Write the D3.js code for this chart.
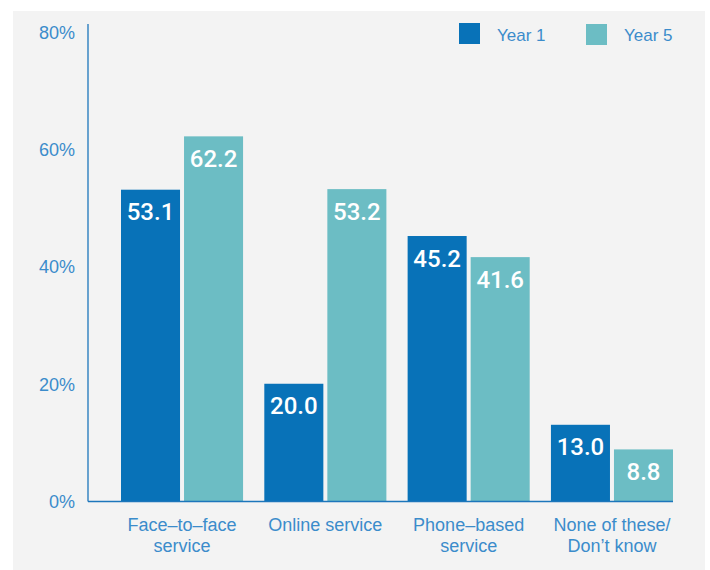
<!DOCTYPE html>
<html>
<head>
<meta charset="utf-8">
<script src="https://cdn.jsdelivr.net/npm/d3@7/dist/d3.min.js"></script>
<style>
  html, body { margin: 0; padding: 0; background: #ffffff; }
  svg { display: block; font-family: "Liberation Sans", Arial, Helvetica, sans-serif; }
  .value { font-family: Roboto, "Liberation Sans", Arial, sans-serif; font-weight: 500; }
</style>
</head>
<body>
<svg id="chart" width="710" height="570"></svg>
<script>
// Share of respondents using each kind of service
const categories = [["Face\u2013to\u2013face", "service"], ["Online service"], ["Phone\u2013based", "service"], ["None of these/", "Don\u2019t know"]];
const categoryKeys = ["face", "online", "phone", "none"];
const seriesNames = ["Year 1", "Year 5"];
const year1 = [53.1, 20.0, 45.2, 13.0];
const year5 = [62.2, 53.2, 41.6, 8.8];
const yTicks = [0, 20, 40, 60, 80];

const colors = ["#0872b8", "#6cbdc4"];
const textBlue = "#3b8ccb";

const svg = d3.select("#chart");

// panel background
svg.append("rect").attr("x", 13).attr("y", 11).attr("width", 692).attr("height", 559).attr("fill", "#f3f3f3");

const y = d3.scaleLinear().domain([0, 80]).range([501, 32]);
const x0 = d3.scaleBand().domain(categoryKeys).range([121, 673]).paddingInner(0.1483).paddingOuter(0);
const x1 = d3.scaleBand().domain(seriesNames).range([0, x0.bandwidth()]).paddingInner(4 / 63);

// y axis
const yAxis = d3.axisLeft(y).tickValues(yTicks).tickFormat(d => d + "%").tickSize(0).tickPadding(13);
const gy = svg.append("g").attr("transform", "translate(88,0)").call(yAxis);
gy.select(".domain").remove();
gy.selectAll("text").attr("fill", textBlue).style("font-size", "18px").attr("dy", "0.35em");
svg.append("line").attr("x1", 88).attr("x2", 88).attr("y1", 24).attr("y2", 501.5)
  .attr("stroke", "#1c76bb").attr("stroke-width", 1.3);

// bars
const series = [year1, year5];
seriesNames.forEach((name, si) => {
  const g = svg.append("g");
  g.selectAll("rect").data(series[si]).join("rect")
    .attr("x", (d, i) => x0(categoryKeys[i]) + x1(name))
    .attr("y", d => y(d))
    .attr("width", x1.bandwidth())
    .attr("height", d => y(0) - y(d))
    .attr("fill", colors[si]);
  g.selectAll("text").data(series[si]).join("text")
    .attr("class", "value")
    .attr("x", (d, i) => x0(categoryKeys[i]) + x1(name) + x1.bandwidth() / 2)
    .attr("y", d => y(d) + 22)
    .attr("dy", "0.36em")
    .attr("text-anchor", "middle")
    .attr("fill", "#ffffff")
    .style("font-size", "24px")
    .text(d => d.toFixed(1));
});

// x axis baseline
svg.append("line").attr("x1", 88).attr("x2", 673).attr("y1", 501.5).attr("y2", 501.5)
  .attr("stroke", "#1c76bb").attr("stroke-width", 1.3);

// category labels
categoryKeys.forEach((k, i) => {
  const cx = x0(k) + x0.bandwidth() / 2;
  const t = svg.append("text")
    .attr("x", cx)
    .attr("y", 525)
    .attr("text-anchor", "middle")
    .attr("fill", textBlue)
    .style("font-size", "18px");
  categories[i].forEach((line, j) => {
    t.append("tspan").attr("x", cx).attr("y", 525 + j * 21).attr("dy", "0.35em").text(line);
  });
});

// legend
const legendX = [459, 586];
seriesNames.forEach((name, si) => {
  svg.append("rect").attr("x", legendX[si]).attr("y", 23 + si).attr("width", 21).attr("height", 21).attr("fill", colors[si]);
  svg.append("text").attr("x", legendX[si] + 38).attr("y", 35).attr("dy", "0.35em")
    .attr("fill", textBlue).style("font-size", "17px").text(name);
});
</script>
</body>
</html>
